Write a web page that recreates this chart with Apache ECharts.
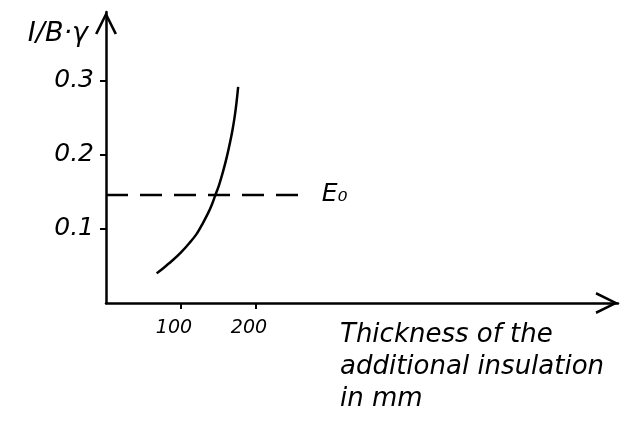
<!DOCTYPE html>
<html>
<head>
<meta charset="utf-8">
<script src="https://cdn.jsdelivr.net/npm/echarts@6/dist/echarts.min.js"></script>
<style>
  html, body { margin: 0; padding: 0; background: #fff; }
  #chart { width: 622px; height: 425px; }
</style>
</head>
<body>
<div id="chart"></div>
<script>
// curve: thickness (mm) -> I/B·γ
const thickness = [67.6, 78.7, 89.3, 100.7, 111.3, 120.7, 129.3, 136.0, 140.9, 145.6,
                   150.7, 156.0, 161.1, 165.3, 168.8, 171.7, 174.0, 176.3];
const ratio = [0.040, 0.049, 0.058, 0.069, 0.081, 0.093, 0.108, 0.121, 0.132, 0.145,
               0.159, 0.177, 0.197, 0.216, 0.234, 0.252, 0.270, 0.292];
// E0 level (dashed)
const e0X = [0, 269];
const e0Y = [0.146, 0.146];
const yTicks = [0.1, 0.2, 0.3];
const xTicks = [100, 200];

const font = 'DejaVu Sans';
const arrow = 'path://M0,0 L11,22 L8.6,23 L0,5.5 L-8.6,23 L-11,22 Z';

const chart = echarts.init(document.getElementById('chart'));

const option = {
  backgroundColor: '#fff',
  animation: false,
  grid: { left: 106, right: 4, top: 12, bottom: 122 },
  xAxis: {
    type: 'value',
    min: 0,
    max: 683,
    name: 'Thickness of the\nadditional insulation\nin mm',
    nameLocation: 'start',
    nameGap: -234,
    nameTextStyle: {
      fontFamily: font, fontStyle: 'italic', fontSize: 26, color: '#000',
      align: 'left', verticalAlign: 'top', lineHeight: 32, padding: [16, 0, 0, 0]
    },
    splitLine: { show: false },
    axisLine: {
      symbol: ['none', arrow], symbolSize: [22, 24], symbolOffset: [0, -11],
      lineStyle: { color: '#000', width: 2.5 }
    },
    axisTick: { customValues: xTicks, length: 6, lineStyle: { color: '#000', width: 2 } },
    axisLabel: {
      customValues: xTicks, margin: 16, padding: [0, 14, 0, 0],
      fontFamily: font, fontStyle: 'italic', fontSize: 19, color: '#000'
    }
  },
  yAxis: {
    type: 'value',
    min: 0,
    max: 0.393,
    name: 'I/B·γ',
    nameGap: -8,
    nameTextStyle: {
      fontFamily: font, fontStyle: 'italic', fontSize: 27, color: '#000',
      align: 'right', verticalAlign: 'top', padding: [0, 18, 0, 0]
    },
    splitLine: { show: false },
    axisLine: {
      symbol: ['none', arrow], symbolSize: [22, 24], symbolOffset: [0, -11],
      lineStyle: { color: '#000', width: 2.5 }
    },
    axisTick: { customValues: yTicks, length: 6, lineStyle: { color: '#000', width: 2 } },
    axisLabel: {
      customValues: yTicks, margin: 12,
      formatter: v => v.toFixed(1),
      fontFamily: font, fontStyle: 'italic', fontSize: 25, color: '#000'
    }
  },
  series: [
    {
      type: 'line',
      smooth: 0.3,
      showSymbol: false,
      data: thickness.map((x, i) => [x, ratio[i]]),
      lineStyle: { color: '#000', width: 2.5 }
    },
    {
      type: 'line',
      showSymbol: false,
      data: e0X.map((x, i) => [x, e0Y[i]]),
      lineStyle: { color: '#000', width: 2.5, type: [22, 12] },
      endLabel: {
        show: true,
        formatter: 'E₀',
        distance: 14,
        fontFamily: font, fontStyle: 'italic', fontSize: 25, color: '#000'
      }
    }
  ]
};

chart.setOption(option);
</script>
</body>
</html>
